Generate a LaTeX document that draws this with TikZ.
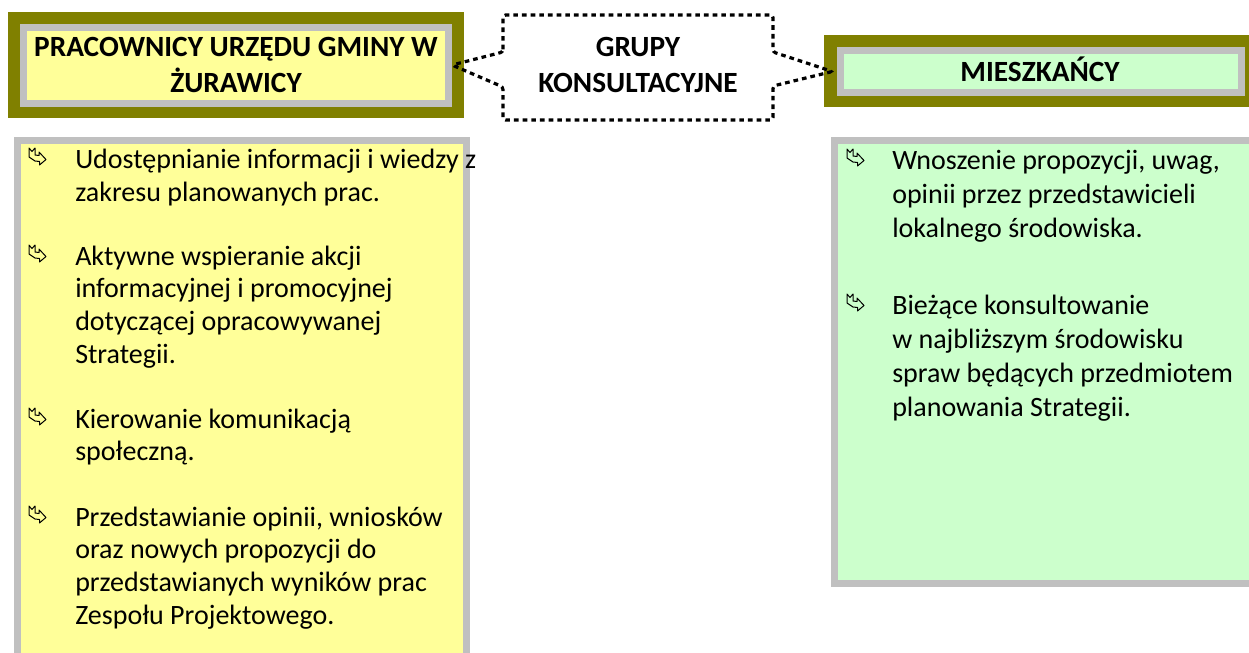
\documentclass[tikz,border=0pt]{standalone}
\usepackage{fontspec}
\setmainfont{Carlito}
\definecolor{oliveC}{HTML}{808000}
\definecolor{grayC}{HTML}{C0C0C0}
\definecolor{yellowC}{HTML}{FFFF99}
\definecolor{greenC}{HTML}{CCFFCC}
\begin{document}
\begin{tikzpicture}[x=0.75pt,y=-0.75pt,
  frame/.style={rectangle, fill=oliveC, draw=none, inner sep=0pt},
  headbox/.style={rectangle, draw=grayC, line width=5.25pt, inner sep=0pt},
  bodybox/.style={rectangle, draw=grayC, line width=5.25pt, inner sep=0pt},
  headtext/.style={font=\bfseries\fontsize{22}{27}\selectfont, align=center, inner sep=0pt, anchor=base},
  bodyL/.style={font=\fontsize{21}{24.5}\selectfont, align=left, inner sep=0pt, anchor=base west},
  bodyR/.style={font=\fontsize{21}{25.5}\selectfont, align=left, inner sep=0pt, anchor=base west},
  dotline/.style={draw=black, line width=2.4pt, dash pattern=on 3.5pt off 3pt, rounded corners=2pt},
  wbullet/.pic={\draw[line width=0.75pt, line join=round]
      (0,0) -- (3,3.5) -- (6,0) -- (6,7) -- (10,7.5) -- (10,4) -- (17,11.5)
      -- (10.5,17) -- (10.5,13.5) -- (6,13) -- (0,9) -- cycle;}
]
\useasboundingbox (0,0) rectangle (1249,653);
\clip (0,0) rectangle (1249,653);

% left header
\node[frame, minimum width=456*0.75pt, minimum height=106*0.75pt] (lhf) at (236,65) {};
\node[headbox, fill=yellowC, minimum width=425*0.75pt, minimum height=76*0.75pt] (lh) at (236,65) {};
\node[headtext] (lht) at (236,92.7) {PRACOWNICY URZĘDU GMINY W\\ŻURAWICY};

% right header
\node[frame, minimum width=425*0.75pt, minimum height=72*0.75pt] (rhf) at (1036.5,71) {};
\node[headbox, fill=greenC, minimum width=401.5*0.75pt, minimum height=42*0.75pt] (rh) at (1040.75,71.5) {};
\node[headtext] (rht) at (1040,81.7) {MIESZKAŃCY};

% center group
\node[headtext] (grp) at (638,92.7) {GRUPY\\KONSULTACYJNE};
\draw[dotline] (503,52) -- (503,15) -- (773,15) -- (773,52) -- ([xshift=-3pt]rh.west)
  -- (773,86) -- (773,120) -- (503,120) -- (503,87) -- (lh.east) -- cycle;

% left body
\node[bodybox, fill=yellowC, minimum width=449*0.75pt, minimum height=580*0.75pt] (lb) at (242,430.5) {};
\pic at (29,148) {wbullet};
\node[bodyL] (l1) at (75,201) {Udostępnianie informacji i wiedzy z\\zakresu planowanych prac.};
\pic at (29,245) {wbullet};
\node[bodyL] (l2) at (75,363) {Aktywne wspieranie akcji\\informacyjnej i promocyjnej\\dotyczącej opracowywanej\\Strategii.};
\pic at (29,408) {wbullet};
\node[bodyL] (l3) at (75,460.7) {Kierowanie komunikacją\\społeczną.};
\pic at (29,506) {wbullet};
\node[bodyL] (l4) at (75,624) {Przedstawianie opinii, wniosków\\oraz nowych propozycji do\\przedstawianych wyników prac\\Zespołu Projektowego.};

% right body
\node[bodybox, fill=greenC, minimum width=428*0.75pt, minimum height=442.5*0.75pt] (rb) at (1048,361.75) {};
\pic at (847,149) {wbullet};
\node[bodyR] (r1) at (892,237.3) {Wnoszenie propozycji, uwag,\\opinii przez przedstawicieli\\lokalnego środowiska.};
\pic at (847,294) {wbullet};
\node[bodyR] (r2) at (892,416) {Bieżące konsultowanie\\w najbliższym środowisku\\spraw będących przedmiotem\\planowania Strategii.};
\end{tikzpicture}
\end{document}
